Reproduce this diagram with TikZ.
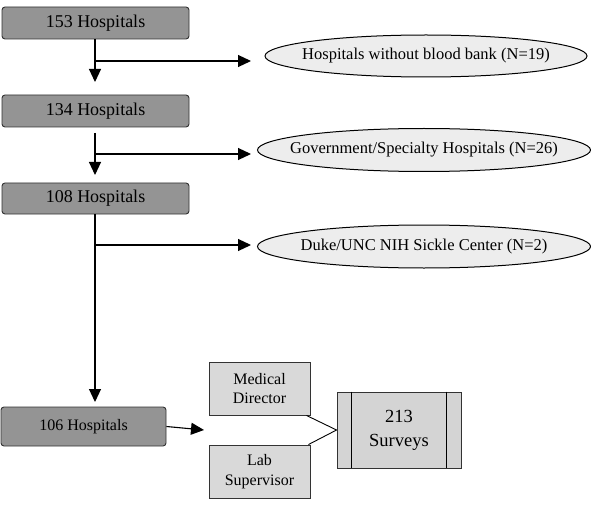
\documentclass[tikz,border=0pt]{standalone}
\usepackage{fontspec}
\setmainfont{Liberation Serif}
\usetikzlibrary{arrows.meta}
\begin{document}
\begin{tikzpicture}[x=1pt,y=-1pt,
  hosp/.style={draw=black!80,line width=0.9pt,fill=black!42,rounded corners=3pt,inner sep=0pt,font=\fontsize{18}{20}\selectfont},
  excl/.style={inner sep=0pt,font=\fontsize{16.5}{19}\selectfont},
  exclshape/.style={draw,line width=1pt,fill=black!7},
  resp/.style={draw=black!80,line width=0.9pt,fill=black!15,inner sep=0pt,align=center,font=\fontsize{16}{19.5}\selectfont},
  flow/.style={line width=1.1pt,-{Triangle[length=13pt,width=12pt]}},
  plain/.style={line width=0.9pt}]
\useasboundingbox (0,0) rectangle (591,505);
\node[hosp,minimum width=187pt,minimum height=32pt] (h153) at (95.5,23) {153 Hospitals};
\node[hosp,minimum width=187pt,minimum height=32pt] (h134) at (95.5,111) {134 Hospitals};
\node[hosp,minimum width=187pt,minimum height=31pt] (h108) at (95.5,198.5) {108 Hospitals};
\node[hosp,minimum width=165pt,minimum height=39pt,font=\fontsize{16}{19}\selectfont] (h106) at (83.5,426.5) {106 Hospitals};
\draw[exclshape] (426,56) ellipse [x radius=161, y radius=21];
\draw[exclshape] (424,150) ellipse [x radius=166.5, y radius=21.5];
\draw[exclshape] (424,246.5) ellipse [x radius=166.5, y radius=21.5];
\node[excl] (e1) at (426,56) {Hospitals without blood bank (N=19)};
\node[excl] (e2) at (424,150) {Government/Specialty Hospitals (N=26)};
\node[excl] (e3) at (424,246.5) {Duke/UNC NIH Sickle Center (N=2)};
\node[resp,minimum width=101pt,minimum height=53pt] (md) at (259.5,388.5) {Medical\\Director};
\node[resp,minimum width=101pt,minimum height=53pt] (ls) at (259.5,471.5) {Lab\\Supervisor};
\node[resp,minimum width=124pt,minimum height=76pt,fill=black!17,font=\fontsize{18.5}{24}\selectfont] (sv) at (399,430) {213\\Surveys};
\draw[plain] ([xshift=15pt]sv.north west) -- ([xshift=15pt]sv.south west);
\draw[plain] ([xshift=-15pt]sv.north east) -- ([xshift=-15pt]sv.south east);
% coordinates
\coordinate (t1) at (95,82);
\coordinate (b1) at (95,61);
\coordinate (a1) at (251,61);
\coordinate (s2) at (95,133);
\coordinate (t2) at (95,175);
\coordinate (b2) at (95,154);
\coordinate (a2) at (251,154);
\coordinate (t3) at (95,402);
\coordinate (b3) at (95,245);
\coordinate (a3) at (251,245);
\coordinate (a4) at (204,430);
\draw[flow] (h153.south -| t1) -- (t1);
\draw[flow] (b1) -- (a1);
\draw[flow] (s2) -- (t2);
\draw[flow] (b2) -- (a2);
\draw[flow] (h108.south -| t3) -- (t3);
\draw[flow] (b3) -- (a3);
\draw[flow] (h106.east) -- (a4);
\draw[plain] ([xshift=-4pt]md.south east) -- (sv.west);
\draw[plain] ([xshift=-2pt]ls.north east) -- (sv.west);
\end{tikzpicture}
\end{document}
